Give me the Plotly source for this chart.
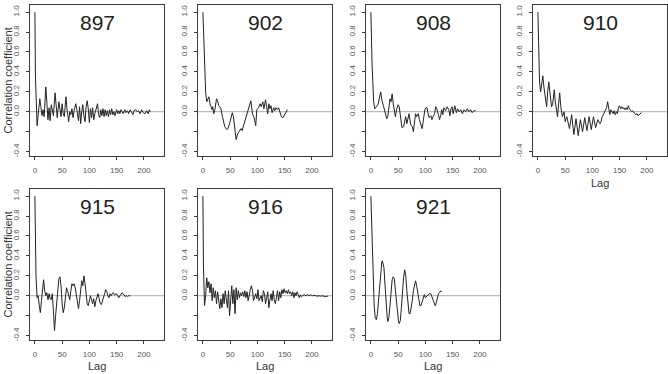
import plotly.graph_objects as go

stations = ["897", "902", "908", "910", "915", "916", "921"]

lag_897 = [0, 1, 4, 6, 9, 11, 13, 15, 17, 20, 22, 24, 26, 28, 30, 32, 34, 37, 39, 41, 44, 46, 48, 50, 52, 54, 57, 59, 62, 64, 66, 68, 70, 72, 75, 77, 80, 82, 84, 86, 88, 90, 92, 94, 96, 98, 100, 102, 104, 106, 108, 110, 112, 115, 117, 119, 121, 123, 125, 127, 129, 131, 133, 135, 137, 139, 141, 143, 145, 147, 150, 152, 154, 156, 158, 160, 162, 165, 167, 170, 172, 175, 177, 180, 182, 185, 188, 190, 193, 196, 199, 202, 205, 208, 210, 212]
acf_897 = [1.0, 0.35, -0.14, -0.02, 0.13, 0.05, -0.04, 0.02, -0.05, 0.25, 0.05, -0.08, 0.04, -0.09, 0.07, 0.02, -0.04, 0.19, 0.02, -0.06, 0.10, 0.02, -0.05, 0.08, -0.02, -0.05, 0.15, 0.02, -0.10, 0.00, -0.03, 0.03, -0.06, 0.01, 0.08, 0.02, -0.09, 0.05, -0.12, 0.00, 0.07, -0.04, -0.10, 0.05, 0.11, 0.03, -0.11, 0.03, -0.06, 0.04, -0.08, -0.02, 0.02, 0.08, -0.03, -0.06, 0.02, -0.04, 0.03, -0.05, 0.02, -0.04, 0.01, -0.05, 0.02, -0.03, 0.03, -0.03, 0.00, -0.04, 0.02, -0.02, 0.01, -0.02, 0.02, -0.01, -0.02, 0.02, -0.01, 0.01, -0.02, 0.02, 0.00, -0.03, 0.01, 0.02, 0.00, 0.01, -0.02, 0.02, -0.01, -0.02, 0.01, -0.02, 0.02, 0.00]

lag_902 = [0, 3, 5, 7, 9, 11, 13, 15, 17, 18, 20, 22, 25, 27, 29, 31, 33, 36, 40, 44, 46, 49, 52, 54, 56, 59, 61, 64, 67, 70, 72, 76, 79, 82, 85, 88, 91, 94, 97, 99, 102, 105, 107, 110, 112, 115, 117, 119, 121, 123, 125, 127, 130, 132, 134, 137, 139, 141, 144, 147, 149, 152, 155]
acf_902 = [1.0, 0.35, 0.20, 0.10, 0.12, 0.15, 0.08, 0.05, 0.02, 0.05, -0.02, 0.02, 0.13, 0.11, 0.06, 0.05, 0.03, -0.05, -0.15, -0.18, -0.17, -0.12, -0.05, -0.01, -0.05, -0.20, -0.28, -0.22, -0.20, -0.17, -0.19, -0.12, -0.05, 0.00, 0.05, 0.11, -0.02, -0.06, -0.14, 0.02, 0.04, 0.08, 0.05, 0.10, 0.03, 0.12, 0.05, -0.02, 0.08, 0.03, 0.06, -0.01, 0.04, 0.01, 0.04, 0.02, 0.04, 0.00, -0.05, -0.06, -0.04, 0.00, 0.02]

lag_908 = [0, 2, 5, 7, 10, 13, 18, 20, 23, 26, 29, 31, 33, 35, 37, 39, 41, 43, 45, 47, 50, 52, 54, 57, 60, 62, 64, 66, 68, 70, 73, 76, 78, 80, 82, 84, 87, 89, 92, 94, 96, 99, 101, 103, 105, 107, 110, 112, 114, 117, 119, 121, 124, 126, 128, 130, 132, 134, 137, 140, 143, 145, 147, 149, 151, 154, 157, 159, 162, 165, 168, 171, 174, 177, 180, 183, 186, 189, 192]
acf_908 = [1.0, 0.50, 0.10, 0.03, 0.05, 0.07, 0.20, 0.12, 0.06, -0.02, -0.07, -0.05, 0.05, 0.13, 0.10, 0.18, 0.08, 0.00, -0.05, 0.02, 0.07, 0.05, -0.05, -0.16, -0.15, -0.10, -0.05, -0.12, -0.08, -0.02, -0.13, -0.15, -0.20, -0.10, -0.02, -0.05, -0.02, -0.08, -0.15, -0.17, -0.10, 0.02, 0.04, 0.04, -0.02, -0.06, -0.04, -0.08, -0.05, -0.02, 0.05, 0.03, -0.03, -0.08, -0.04, 0.02, -0.03, 0.04, 0.01, 0.05, 0.02, -0.04, 0.03, 0.05, -0.02, 0.06, -0.01, 0.03, 0.00, 0.02, -0.02, 0.02, 0.00, 0.03, 0.00, 0.02, -0.01, 0.01, 0.01]

lag_910 = [0, 2, 3, 5, 7, 9, 11, 14, 16, 18, 20, 22, 25, 27, 30, 32, 34, 36, 38, 40, 42, 45, 48, 50, 53, 58, 62, 66, 70, 74, 78, 82, 86, 90, 94, 98, 102, 106, 110, 114, 116, 118, 121, 124, 126, 128, 130, 132, 134, 136, 138, 140, 142, 144, 146, 148, 150, 152, 154, 156, 158, 160, 162, 164, 166, 168, 170, 172, 174, 176, 178, 180, 182, 184, 186, 188, 190]
acf_910 = [1.0, 0.50, 0.30, 0.20, 0.30, 0.36, 0.25, 0.10, 0.05, 0.20, 0.30, 0.20, 0.05, 0.07, 0.22, 0.10, 0.02, -0.05, 0.08, 0.19, 0.05, -0.05, 0.00, -0.10, -0.05, -0.17, -0.03, -0.23, -0.07, -0.24, -0.08, -0.20, -0.06, -0.19, -0.05, -0.18, -0.05, -0.16, -0.08, -0.12, -0.10, -0.05, -0.02, 0.02, 0.04, 0.10, 0.05, -0.03, 0.02, 0.00, -0.02, 0.01, -0.03, 0.00, -0.02, 0.05, 0.06, 0.03, 0.05, 0.03, 0.04, 0.02, 0.04, 0.02, 0.06, 0.03, 0.02, 0.00, 0.01, -0.01, -0.02, -0.03, -0.02, -0.04, -0.03, -0.02, -0.01]

lag_915 = [0, 2, 4, 6, 8, 10, 12, 14, 16, 18, 20, 22, 24, 26, 28, 30, 32, 34, 36, 38, 40, 42, 44, 46, 48, 50, 52, 54, 56, 58, 60, 62, 64, 66, 68, 70, 72, 74, 76, 78, 80, 82, 84, 86, 88, 90, 92, 94, 96, 98, 100, 102, 104, 106, 108, 110, 112, 114, 116, 118, 120, 122, 124, 126, 128, 130, 132, 134, 136, 138, 140, 142, 144, 146, 148, 150, 152, 154, 156, 158, 160, 162, 164, 166, 168, 170, 172, 175]
acf_915 = [1.0, 0.20, -0.02, 0.00, -0.10, -0.17, -0.05, 0.10, 0.16, 0.05, 0.00, 0.03, -0.04, 0.02, -0.03, -0.04, 0.02, -0.15, -0.35, -0.20, -0.05, 0.08, 0.17, 0.19, 0.10, -0.08, -0.17, -0.12, 0.00, 0.08, 0.05, 0.00, -0.04, 0.05, 0.12, 0.10, 0.12, 0.08, 0.00, -0.08, -0.13, -0.05, 0.05, 0.15, 0.10, 0.20, 0.12, 0.00, -0.08, -0.10, -0.03, 0.00, -0.04, -0.08, -0.03, -0.11, -0.05, -0.02, 0.02, -0.03, -0.08, -0.09, -0.06, -0.02, 0.02, 0.06, 0.04, 0.00, -0.02, 0.02, 0.00, 0.02, 0.03, 0.01, 0.02, 0.02, 0.00, -0.02, 0.00, 0.02, 0.03, 0.02, 0.01, -0.01, 0.00, -0.01, 0.00, 0.00]

lag_916 = [0, 1, 3, 5, 7, 9, 11, 13, 15, 17, 19, 21, 23, 25, 27, 29, 31, 33, 35, 37, 39, 41, 43, 45, 47, 49, 51, 53, 55, 57, 59, 61, 63, 65, 67, 69, 71, 73, 75, 77, 79, 81, 83, 85, 87, 89, 91, 93, 95, 97, 99, 101, 103, 105, 107, 109, 111, 113, 115, 117, 119, 121, 123, 125, 127, 129, 131, 133, 135, 137, 139, 141, 143, 145, 147, 149, 151, 153, 155, 157, 159, 161, 163, 165, 167, 169, 171, 173, 175, 177, 179, 181, 183, 186, 189, 192, 195, 198, 201, 204, 207, 210, 213, 216, 219, 222, 225, 228, 230]
acf_916 = [1.0, 0.30, -0.10, 0.00, 0.18, 0.08, 0.14, 0.03, 0.12, -0.05, 0.08, -0.02, 0.05, -0.08, 0.04, -0.05, -0.13, -0.03, -0.12, 0.02, -0.08, 0.05, -0.05, -0.12, 0.05, -0.20, -0.05, 0.10, -0.08, 0.06, -0.18, 0.08, -0.04, 0.05, -0.02, 0.03, 0.00, 0.04, -0.01, 0.05, -0.02, 0.04, -0.05, 0.03, 0.06, 0.10, 0.05, -0.05, -0.02, 0.02, -0.03, 0.06, -0.05, -0.02, 0.00, -0.06, 0.05, 0.02, -0.08, -0.02, 0.04, -0.12, -0.02, 0.02, -0.05, 0.05, -0.04, -0.08, -0.02, 0.05, -0.05, 0.04, -0.02, 0.06, 0.02, 0.07, 0.03, 0.05, 0.02, 0.06, 0.02, 0.04, 0.00, 0.04, -0.02, 0.03, 0.00, 0.04, 0.01, -0.02, 0.01, -0.01, 0.00, 0.01, 0.00, 0.01, 0.00, 0.01, 0.00, 0.005, 0.00, -0.005, 0.00, -0.005, 0.00, -0.005, -0.01, -0.005, -0.005]

lag_921 = [0, 2, 4, 6, 8, 10, 12, 14, 16, 18, 20, 21, 22, 24, 26, 28, 30, 31, 33, 35, 37, 39, 41, 43, 45, 47, 49, 51, 52, 54, 56, 58, 60, 62, 64, 66, 68, 70, 72, 74, 76, 78, 80, 82, 84, 86, 88, 90, 92, 94, 96, 98, 100, 104, 107, 110, 113, 116, 118, 120, 122, 124, 126, 128, 130]
acf_921 = [1.0, 0.60, 0.20, -0.10, -0.22, -0.24, -0.18, -0.05, 0.10, 0.25, 0.34, 0.35, 0.32, 0.28, 0.10, -0.10, -0.22, -0.26, -0.22, -0.10, 0.05, 0.16, 0.19, 0.17, 0.05, -0.08, -0.20, -0.27, -0.28, -0.25, -0.12, 0.05, 0.18, 0.26, 0.20, 0.05, -0.10, -0.18, -0.18, -0.12, -0.05, 0.05, 0.12, 0.15, 0.10, 0.02, -0.06, -0.10, -0.10, -0.06, -0.01, 0.01, -0.02, 0.01, 0.02, 0.02, -0.03, -0.08, -0.10, -0.07, -0.02, 0.02, 0.03, 0.05, 0.04]

series = {
    "897": (lag_897, acf_897), "902": (lag_902, acf_902), "908": (lag_908, acf_908),
    "910": (lag_910, acf_910), "915": (lag_915, acf_915), "916": (lag_916, acf_916),
    "921": (lag_921, acf_921),
}

y_tickvals = [-0.4, -0.2, 0.0, 0.2, 0.4, 0.6, 0.8, 1.0]
y_ticktext = ["-0.4", "", "0.0", "0.2", "0.4", "0.6", "0.8", "1.0"]
x_tickvals = [0, 50, 100, 150, 200]

W, H = 668, 374
col_left = [30, 198, 366, 533]
panel_w = 134
row_top = [5, 189]
panel_h = 151

fig = go.Figure()
FONT = "Liberation Sans, Arial, Helvetica, sans-serif"
annotations = []
shapes = []

for i, st in enumerate(stations):
    r, c = divmod(i, 4)
    n = i + 1
    xa = "xaxis" if n == 1 else f"xaxis{n}"
    ya = "yaxis" if n == 1 else f"yaxis{n}"
    xr = "x" if n == 1 else f"x{n}"
    yr = "y" if n == 1 else f"y{n}"
    x0 = col_left[c] / W
    x1 = (col_left[c] + panel_w) / W
    y1 = 1 - row_top[r] / H
    y0 = 1 - (row_top[r] + panel_h) / H
    lags, vals = series[st]
    fig.add_trace(go.Scatter(x=lags, y=vals, mode="lines",
                             line=dict(color="#222222", width=1),
                             xaxis=xr, yaxis=yr, showlegend=False, hoverinfo="skip"))
    common = dict(showgrid=False, zeroline=False, showline=True, mirror=True,
                  linecolor="#3a3a3a", linewidth=1.3, ticks="outside", ticklen=3,
                  tickcolor="#3a3a3a", tickwidth=1,
                  tickfont=dict(family=FONT, size=8, color="#555555"))
    fig.layout[xa] = dict(domain=[x0, x1], anchor=yr, range=[-9, 237],
                          tickvals=x_tickvals, ticklabelstandoff=3, **common)
    fig.layout[ya] = dict(domain=[y0, y1], anchor=xr, range=[-0.445, 1.072],
                          tickvals=y_tickvals, ticktext=y_ticktext, tickangle=-90,
                          ticklabelstandoff=4, **common)
    shapes.append(dict(type="line", xref=f"{xr} domain", yref=yr, x0=0, x1=1, y0=0, y1=0,
                       line=dict(color="#aaaaaa", width=1), layer="below"))
    annotations.append(dict(text=st, xref=f"{xr} domain", yref=f"{yr} domain",
                            x=0.5, y=0.885, xanchor="center", yanchor="middle",
                            showarrow=False, font=dict(family=FONT, size=21, color="#222222")))
    cx = (col_left[c] + panel_w / 2) / W
    if c == 0:
        annotations.append(dict(text="Correlation coefficient", xref="paper", yref="paper",
                                x=7 / W, y=(y0 + y1) / 2, textangle=-90,
                                xanchor="center", yanchor="middle", showarrow=False,
                                font=dict(family=FONT, size=11, color="#333333")))
    if r == 1 or st == "910":
        ly = 183 if r == 0 else 366
        annotations.append(dict(text="Lag", xref="paper", yref="paper",
                                x=cx, y=1 - ly / H, xanchor="center", yanchor="middle",
                                showarrow=False,
                                font=dict(family=FONT, size=11, color="#333333")))

fig.update_layout(width=W, height=H, margin=dict(l=0, r=0, t=0, b=0),
                  paper_bgcolor="white", plot_bgcolor="white",
                  annotations=annotations, shapes=shapes, showlegend=False)

fig.write_html("out.html")
